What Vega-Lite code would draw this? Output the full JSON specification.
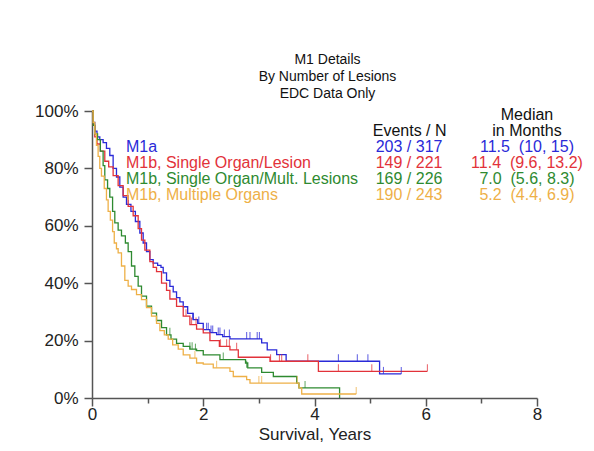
{
  "$schema": "https://vega.github.io/schema/vega-lite/v6.json",
  "width": 445,
  "height": 287,
  "autosize": {"type": "none"},
  "padding": {"left": 92, "top": 111, "right": 57, "bottom": 53},
  "background": "white",
  "config": {
    "view": {"stroke": null},
    "font": "Liberation Sans",
    "text": {"font": "Liberation Sans"}
  },
  "title": {
    "text": ["M1 Details", "By Number of Lesions", "EDC Data Only"],
    "fontSize": 14,
    "fontWeight": "normal",
    "lineHeight": 17,
    "anchor": "middle",
    "dx": 13,
    "offset": 1,
    "color": "#111111",
    "font": "Liberation Sans"
  },
  "datasets": {
    "curves": [
      {"g": "M1a", "t": 0, "s": 1.0}, {"g": "M1a", "t": 0.02, "s": 0.96}, {"g": "M1a", "t": 0.05, "s": 0.93}, {"g": "M1a", "t": 0.09, "s": 0.91}, {"g": "M1a", "t": 0.14, "s": 0.9}, {"g": "M1a", "t": 0.2, "s": 0.89}, {"g": "M1a", "t": 0.26, "s": 0.87}, {"g": "M1a", "t": 0.32, "s": 0.845}, {"g": "M1a", "t": 0.38, "s": 0.8}, {"g": "M1a", "t": 0.44, "s": 0.77}, {"g": "M1a", "t": 0.5, "s": 0.735}, {"g": "M1a", "t": 0.56, "s": 0.7}, {"g": "M1a", "t": 0.62, "s": 0.675}, {"g": "M1a", "t": 0.7, "s": 0.65}, {"g": "M1a", "t": 0.78, "s": 0.615}, {"g": "M1a", "t": 0.86, "s": 0.575}, {"g": "M1a", "t": 0.92, "s": 0.54}, {"g": "M1a", "t": 0.98, "s": 0.51}, {"g": "M1a", "t": 1.04, "s": 0.482}, {"g": "M1a", "t": 1.1, "s": 0.47}, {"g": "M1a", "t": 1.18, "s": 0.462}, {"g": "M1a", "t": 1.24, "s": 0.455}, {"g": "M1a", "t": 1.28, "s": 0.436}, {"g": "M1a", "t": 1.34, "s": 0.41}, {"g": "M1a", "t": 1.4, "s": 0.389}, {"g": "M1a", "t": 1.46, "s": 0.37}, {"g": "M1a", "t": 1.52, "s": 0.35}, {"g": "M1a", "t": 1.58, "s": 0.335}, {"g": "M1a", "t": 1.64, "s": 0.318}, {"g": "M1a", "t": 1.72, "s": 0.295}, {"g": "M1a", "t": 1.82, "s": 0.273}, {"g": "M1a", "t": 1.9, "s": 0.26}, {"g": "M1a", "t": 2.0, "s": 0.238}, {"g": "M1a", "t": 2.12, "s": 0.228}, {"g": "M1a", "t": 2.24, "s": 0.221}, {"g": "M1a", "t": 2.35, "s": 0.214}, {"g": "M1a", "t": 2.48, "s": 0.206}, {"g": "M1a", "t": 3.05, "s": 0.192}, {"g": "M1a", "t": 3.15, "s": 0.168}, {"g": "M1a", "t": 3.32, "s": 0.151}, {"g": "M1a", "t": 3.49, "s": 0.128}, {"g": "M1a", "t": 5.17, "s": 0.084}, {"g": "M1a", "t": 5.56, "s": 0.084},
      {"g": "SOL", "t": 0, "s": 1.0}, {"g": "SOL", "t": 0.02, "s": 0.95}, {"g": "SOL", "t": 0.05, "s": 0.91}, {"g": "SOL", "t": 0.09, "s": 0.885}, {"g": "SOL", "t": 0.15, "s": 0.86}, {"g": "SOL", "t": 0.23, "s": 0.825}, {"g": "SOL", "t": 0.3, "s": 0.805}, {"g": "SOL", "t": 0.38, "s": 0.775}, {"g": "SOL", "t": 0.47, "s": 0.74}, {"g": "SOL", "t": 0.56, "s": 0.705}, {"g": "SOL", "t": 0.65, "s": 0.668}, {"g": "SOL", "t": 0.74, "s": 0.635}, {"g": "SOL", "t": 0.83, "s": 0.59}, {"g": "SOL", "t": 0.89, "s": 0.55}, {"g": "SOL", "t": 0.95, "s": 0.515}, {"g": "SOL", "t": 1.04, "s": 0.475}, {"g": "SOL", "t": 1.1, "s": 0.455}, {"g": "SOL", "t": 1.16, "s": 0.44}, {"g": "SOL", "t": 1.25, "s": 0.4}, {"g": "SOL", "t": 1.34, "s": 0.375}, {"g": "SOL", "t": 1.4, "s": 0.345}, {"g": "SOL", "t": 1.52, "s": 0.319}, {"g": "SOL", "t": 1.64, "s": 0.285}, {"g": "SOL", "t": 1.76, "s": 0.256}, {"g": "SOL", "t": 1.88, "s": 0.24}, {"g": "SOL", "t": 2.0, "s": 0.227}, {"g": "SOL", "t": 2.12, "s": 0.2}, {"g": "SOL", "t": 2.29, "s": 0.18}, {"g": "SOL", "t": 2.48, "s": 0.168}, {"g": "SOL", "t": 2.63, "s": 0.142}, {"g": "SOL", "t": 3.2, "s": 0.128}, {"g": "SOL", "t": 4.07, "s": 0.093}, {"g": "SOL", "t": 6.03, "s": 0.093},
      {"g": "SOML", "t": 0, "s": 1.0}, {"g": "SOML", "t": 0.02, "s": 0.95}, {"g": "SOML", "t": 0.05, "s": 0.92}, {"g": "SOML", "t": 0.1, "s": 0.9}, {"g": "SOML", "t": 0.15, "s": 0.86}, {"g": "SOML", "t": 0.2, "s": 0.81}, {"g": "SOML", "t": 0.23, "s": 0.76}, {"g": "SOML", "t": 0.28, "s": 0.73}, {"g": "SOML", "t": 0.32, "s": 0.7}, {"g": "SOML", "t": 0.37, "s": 0.65}, {"g": "SOML", "t": 0.41, "s": 0.61}, {"g": "SOML", "t": 0.47, "s": 0.585}, {"g": "SOML", "t": 0.53, "s": 0.565}, {"g": "SOML", "t": 0.6, "s": 0.54}, {"g": "SOML", "t": 0.65, "s": 0.51}, {"g": "SOML", "t": 0.71, "s": 0.46}, {"g": "SOML", "t": 0.77, "s": 0.424}, {"g": "SOML", "t": 0.83, "s": 0.39}, {"g": "SOML", "t": 0.89, "s": 0.355}, {"g": "SOML", "t": 0.98, "s": 0.32}, {"g": "SOML", "t": 1.07, "s": 0.296}, {"g": "SOML", "t": 1.16, "s": 0.27}, {"g": "SOML", "t": 1.25, "s": 0.245}, {"g": "SOML", "t": 1.34, "s": 0.22}, {"g": "SOML", "t": 1.42, "s": 0.205}, {"g": "SOML", "t": 1.52, "s": 0.19}, {"g": "SOML", "t": 1.64, "s": 0.18}, {"g": "SOML", "t": 1.76, "s": 0.17}, {"g": "SOML", "t": 1.88, "s": 0.165}, {"g": "SOML", "t": 2.0, "s": 0.15}, {"g": "SOML", "t": 2.3, "s": 0.134}, {"g": "SOML", "t": 2.76, "s": 0.122}, {"g": "SOML", "t": 2.8, "s": 0.105}, {"g": "SOML", "t": 3.05, "s": 0.089}, {"g": "SOML", "t": 3.26, "s": 0.075}, {"g": "SOML", "t": 3.68, "s": 0.052}, {"g": "SOML", "t": 3.72, "s": 0.035}, {"g": "SOML", "t": 4.45, "s": 0.035}, {"g": "SOML", "t": 4.451, "s": 0.0},
      {"g": "MO", "t": 0, "s": 1.0}, {"g": "MO", "t": 0.02, "s": 0.96}, {"g": "MO", "t": 0.05, "s": 0.92}, {"g": "MO", "t": 0.08, "s": 0.88}, {"g": "MO", "t": 0.11, "s": 0.842}, {"g": "MO", "t": 0.14, "s": 0.8}, {"g": "MO", "t": 0.17, "s": 0.773}, {"g": "MO", "t": 0.22, "s": 0.73}, {"g": "MO", "t": 0.26, "s": 0.69}, {"g": "MO", "t": 0.29, "s": 0.65}, {"g": "MO", "t": 0.33, "s": 0.62}, {"g": "MO", "t": 0.37, "s": 0.58}, {"g": "MO", "t": 0.4, "s": 0.54}, {"g": "MO", "t": 0.44, "s": 0.52}, {"g": "MO", "t": 0.47, "s": 0.506}, {"g": "MO", "t": 0.53, "s": 0.46}, {"g": "MO", "t": 0.59, "s": 0.41}, {"g": "MO", "t": 0.65, "s": 0.39}, {"g": "MO", "t": 0.71, "s": 0.378}, {"g": "MO", "t": 0.8, "s": 0.36}, {"g": "MO", "t": 0.89, "s": 0.343}, {"g": "MO", "t": 0.98, "s": 0.315}, {"g": "MO", "t": 1.07, "s": 0.285}, {"g": "MO", "t": 1.16, "s": 0.26}, {"g": "MO", "t": 1.22, "s": 0.235}, {"g": "MO", "t": 1.3, "s": 0.22}, {"g": "MO", "t": 1.37, "s": 0.205}, {"g": "MO", "t": 1.45, "s": 0.185}, {"g": "MO", "t": 1.55, "s": 0.17}, {"g": "MO", "t": 1.64, "s": 0.15}, {"g": "MO", "t": 1.76, "s": 0.139}, {"g": "MO", "t": 1.88, "s": 0.122}, {"g": "MO", "t": 2.0, "s": 0.118}, {"g": "MO", "t": 2.18, "s": 0.105}, {"g": "MO", "t": 2.48, "s": 0.093}, {"g": "MO", "t": 2.54, "s": 0.075}, {"g": "MO", "t": 2.78, "s": 0.064}, {"g": "MO", "t": 2.84, "s": 0.052}, {"g": "MO", "t": 3.68, "s": 0.052}, {"g": "MO", "t": 3.72, "s": 0.035}, {"g": "MO", "t": 3.77, "s": 0.014}, {"g": "MO", "t": 4.75, "s": 0.014}
    ],
    "censor": [
      {"g": "M1a", "t": 1.81, "s": 0.273}, {"g": "M1a", "t": 1.92, "s": 0.26}, {"g": "M1a", "t": 2.06, "s": 0.238}, {"g": "M1a", "t": 2.09, "s": 0.238}, {"g": "M1a", "t": 2.14, "s": 0.228}, {"g": "M1a", "t": 2.17, "s": 0.228}, {"g": "M1a", "t": 2.27, "s": 0.221}, {"g": "M1a", "t": 2.3, "s": 0.221}, {"g": "M1a", "t": 2.38, "s": 0.214}, {"g": "M1a", "t": 2.47, "s": 0.214}, {"g": "M1a", "t": 2.78, "s": 0.206}, {"g": "M1a", "t": 2.84, "s": 0.206}, {"g": "M1a", "t": 2.97, "s": 0.206}, {"g": "M1a", "t": 3.01, "s": 0.206}, {"g": "M1a", "t": 4.43, "s": 0.128}, {"g": "M1a", "t": 4.77, "s": 0.128}, {"g": "M1a", "t": 4.96, "s": 0.128}, {"g": "M1a", "t": 5.24, "s": 0.084}, {"g": "M1a", "t": 5.56, "s": 0.084},
      {"g": "SOL", "t": 1.69, "s": 0.285}, {"g": "SOL", "t": 1.79, "s": 0.256}, {"g": "SOL", "t": 1.87, "s": 0.256}, {"g": "SOL", "t": 2.31, "s": 0.18}, {"g": "SOL", "t": 2.42, "s": 0.18}, {"g": "SOL", "t": 2.47, "s": 0.18}, {"g": "SOL", "t": 2.6, "s": 0.168}, {"g": "SOL", "t": 3.21, "s": 0.128}, {"g": "SOL", "t": 3.37, "s": 0.128}, {"g": "SOL", "t": 3.41, "s": 0.128}, {"g": "SOL", "t": 3.88, "s": 0.128}, {"g": "SOL", "t": 4.43, "s": 0.093}, {"g": "SOL", "t": 5.03, "s": 0.093}, {"g": "SOL", "t": 6.03, "s": 0.093},
      {"g": "SOML", "t": 1.4, "s": 0.22}, {"g": "SOML", "t": 1.76, "s": 0.17}, {"g": "SOML", "t": 1.8, "s": 0.17}, {"g": "SOML", "t": 1.86, "s": 0.165}, {"g": "SOML", "t": 2.36, "s": 0.134}, {"g": "SOML", "t": 2.78, "s": 0.105}, {"g": "SOML", "t": 3.83, "s": 0.035},
      {"g": "MO", "t": 1.85, "s": 0.139}, {"g": "MO", "t": 2.24, "s": 0.105}, {"g": "MO", "t": 3.0, "s": 0.052}, {"g": "MO", "t": 3.05, "s": 0.052}, {"g": "MO", "t": 3.69, "s": 0.052}, {"g": "MO", "t": 4.75, "s": 0.014}
    ],
    "legend": [
      {"g": "M1a", "rank": 1, "label": "M1a", "events": "203 / 317", "median": "11.5\u00a0 (10, 15)"},
      {"g": "SOL", "rank": 2, "label": "M1b, Single Organ/Lesion", "events": "149 / 221", "median": "11.4\u00a0 (9.6, 13.2)"},
      {"g": "SOML", "rank": 3, "label": "M1b, Single Organ/Mult. Lesions", "events": "169 / 226", "median": "7.0\u00a0 (5.6, 8.3)"},
      {"g": "MO", "rank": 4, "label": "M1b, Multiple Organs", "events": "190 / 243", "median": "5.2\u00a0 (4.4, 6.9)"}
    ]
  },
  "layer": [
    {
      "data": {"name": "curves"},
      "mark": {"type": "line", "interpolate": "step-after", "strokeWidth": 1.3},
      "encoding": {
        "x": {
          "field": "t", "type": "quantitative",
          "scale": {"domain": [0, 8], "nice": false, "zero": false},
          "axis": {
            "values": [0, 1, 2, 3, 4, 5, 6, 7, 8],
            "format": "d",
            "labelExpr": "datum.value % 2 == 0 ? datum.label : ''",
            "tickSize": {"condition": {"test": "datum.value % 2 == 0", "value": 8}, "value": 5},
            "title": "Survival, Years",
            "grid": false,
            "domainColor": "#555555", "tickColor": "#555555",
            "domainWidth": 1.5, "tickWidth": 1.5,
            "labelFontSize": 17, "titleFontSize": 17, "titleFontWeight": "normal",
            "labelColor": "#222222", "titleColor": "#222222",
            "labelFont": "Liberation Sans", "titleFont": "Liberation Sans",
            "labelPadding": 0, "titlePadding": 4, "labelFlush": false, "labelOverlap": false
          }
        },
        "y": {
          "field": "s", "type": "quantitative",
          "scale": {"domain": [0, 1], "nice": false},
          "axis": {
            "values": [0, 0.1, 0.2, 0.3, 0.4, 0.5, 0.6, 0.7, 0.8, 0.9, 1],
            "format": ".0%",
            "labelExpr": "round(datum.value * 10) % 2 == 0 ? datum.label : ''",
            "tickSize": {"condition": {"test": "round(datum.value * 10) % 2 == 0", "value": 8}, "value": 5},
            "title": null,
            "grid": false,
            "domainColor": "#555555", "tickColor": "#555555",
            "domainWidth": 1.5, "tickWidth": 1.5,
            "labelFontSize": 17, "labelColor": "#222222", "labelFont": "Liberation Sans",
            "labelPadding": 6, "labelOverlap": false
          }
        },
        "color": {
          "field": "g", "type": "nominal",
          "scale": {"domain": ["M1a", "SOL", "SOML", "MO"], "range": ["#2a2ad8", "#e2323a", "#2e8a30", "#eeb047"]},
          "legend": null
        }
      }
    },
    {
      "data": {"name": "censor"},
      "mark": {"type": "tick", "orient": "vertical", "size": 7, "thickness": 1.1, "yOffset": -3.5},
      "encoding": {
        "x": {"field": "t", "type": "quantitative"},
        "y": {"field": "s", "type": "quantitative"},
        "color": {"field": "g", "type": "nominal", "legend": null}
      }
    },
    {
      "data": {"name": "legend"},
      "mark": {"type": "text", "align": "left", "baseline": "middle", "fontSize": 16, "font": "Liberation Sans"},
      "encoding": {
        "x": {"datum": 0.61},
        "y": {"datum": 0.874},
        "yOffset": {"field": "rank", "type": "quantitative", "scale": {"domain": [1, 4], "range": [0, 47.7]}},
        "text": {"field": "label"},
        "color": {"field": "g", "type": "nominal", "legend": null}
      }
    },
    {
      "data": {"name": "legend"},
      "mark": {"type": "text", "align": "center", "baseline": "middle", "fontSize": 16, "font": "Liberation Sans"},
      "encoding": {
        "x": {"datum": 5.7},
        "y": {"datum": 0.874},
        "yOffset": {"field": "rank", "type": "quantitative", "scale": {"domain": [1, 4], "range": [0, 47.7]}},
        "text": {"field": "events"},
        "color": {"field": "g", "type": "nominal", "legend": null}
      }
    },
    {
      "data": {"name": "legend"},
      "mark": {"type": "text", "align": "center", "baseline": "middle", "fontSize": 16, "font": "Liberation Sans"},
      "encoding": {
        "x": {"datum": 7.82},
        "y": {"datum": 0.874},
        "yOffset": {"field": "rank", "type": "quantitative", "scale": {"domain": [1, 4], "range": [0, 47.7]}},
        "text": {"field": "median"},
        "color": {"field": "g", "type": "nominal", "legend": null}
      }
    },
    {
      "data": {"values": [{"h": "Events / N"}]},
      "mark": {"type": "text", "align": "center", "baseline": "middle", "fontSize": 16, "font": "Liberation Sans", "color": "#111111"},
      "encoding": {"x": {"datum": 5.71}, "y": {"datum": 0.931}, "text": {"field": "h"}}
    },
    {
      "data": {"values": [{"h": "Median"}]},
      "mark": {"type": "text", "align": "center", "baseline": "middle", "fontSize": 16, "font": "Liberation Sans", "color": "#111111"},
      "encoding": {"x": {"datum": 7.82}, "y": {"datum": 0.987}, "text": {"field": "h"}}
    },
    {
      "data": {"values": [{"h": "in Months"}]},
      "mark": {"type": "text", "align": "center", "baseline": "middle", "fontSize": 16, "font": "Liberation Sans", "color": "#111111"},
      "encoding": {"x": {"datum": 7.82}, "y": {"datum": 0.931}, "text": {"field": "h"}}
    }
  ]
}
